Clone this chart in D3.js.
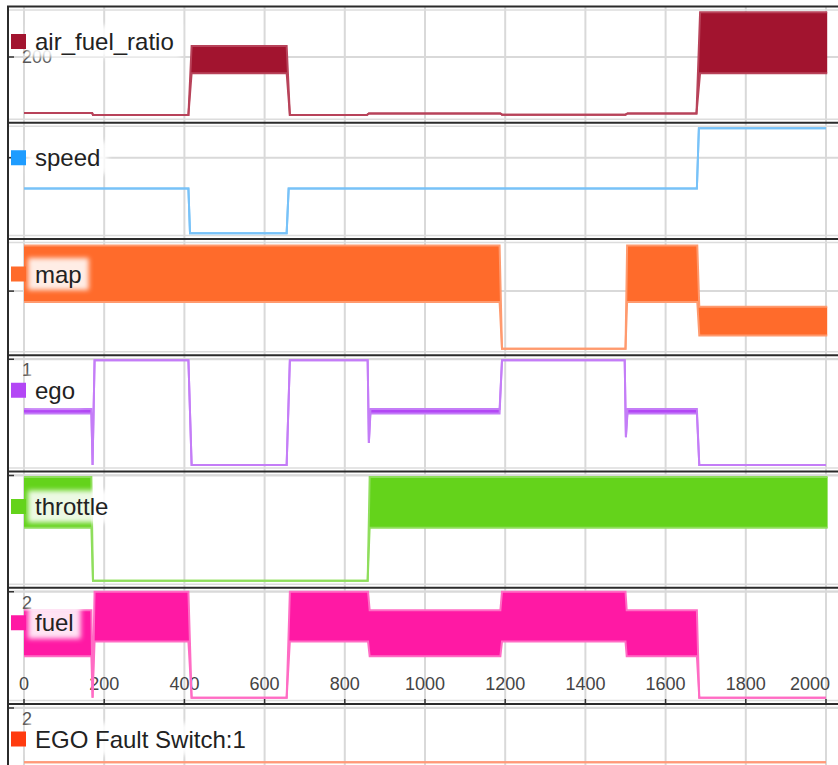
<!DOCTYPE html>
<meta charset="utf-8">
<script src="https://d3js.org/d3.v7.min.js"></script>
<style>
  body { margin: 0; background: #fff; }
  text { font-family: "Liberation Sans", Arial, sans-serif; }
</style>
<div id="my_dataviz"></div>
<script>

// time axis ticks
var xTicks = [0, 200, 400, 600, 800, 1000, 1200, 1400, 1600, 1800, 2000];

// each signal as segments: [start time, end time, low value, high value]
// (low == high for a flat level, low < high where the signal oscillates fast)
var afrSegs = [[0, 170, 16, 16], [172, 410, 10, 10], [418, 655, 147, 236], [663, 855, 10, 10],
               [860, 1188, 15, 15], [1192, 1500, 11, 11], [1505, 1677, 15, 15], [1686, 2003, 147, 347]];
var speedSegs = [[0, 410, 300, 300], [414, 655, 12, 12], [660, 1678, 300, 300], [1683, 2000, 690, 690]];
var mapSegs = [[0, 1186, 0.41, 0.88], [1192, 1500, 0.02, 0.02], [1504, 1679, 0.41, 0.88], [1684, 2003, 0.13, 0.37]];
var egoSegs = [[0, 168, 0.5, 0.54], [171, 171, 0.023, 0.023], [176, 410, 0.99, 0.99], [418, 655, 0.023, 0.023],
               [663, 857, 0.99, 0.99], [860, 860, 0.226, 0.226], [864, 1186, 0.5, 0.54], [1192, 1498, 0.99, 0.99],
               [1501, 1501, 0.28, 0.28], [1505, 1678, 0.5, 0.54], [1684, 2000, 0.023, 0.023]];
var throttleSegs = [[0, 168, 15.5, 29.6], [172, 857, 0.8, 0.8], [862, 2004, 15.5, 29.6]];
var fuelSegs = [[0, 168, 0.81, 1.66], [171, 171, 0.04, 0.04], [176, 410, 1.08, 2.0], [418, 655, 0.04, 0.04],
                [663, 858, 1.08, 2.0], [862, 1188, 0.81, 1.66], [1192, 1500, 1.08, 2.0], [1503, 1678, 0.81, 1.66],
                [1684, 2000, 0.04, 0.04]];
var faultSegs = [[0, 2000, 1, 1]];

// y tick values per panel, and the labels that are not covered by a legend
var afrTicks = [200],     afrLabels = [200];
var speedTicks = [500],   speedLabels = [];
var mapTicks = [0.5],     mapLabels = [];
var egoTicks = [1],       egoLabels = [1];
var throttleTicks = [30], throttleLabels = [];
var fuelTicks = [2],      fuelLabels = [2];
var faultTicks = [2],     faultLabels = [2];

var panels = [
  {name: "air_fuel_ratio", color: "#a2142f", line: "#b8435a", segs: afrSegs, domain: [-2.5, 352.5], ticks: afrTicks, labels: afrLabels},
  {name: "speed", color: "#1e9cff", line: "#78c2f8", segs: speedSegs, domain: [0, 700], ticks: speedTicks, labels: speedLabels},
  {name: "map", color: "#ff6b2b", line: "#ff9a6e", segs: mapSegs, domain: [0, 0.9], ticks: mapTicks, labels: mapLabels},
  {name: "ego", color: "#b347f5", line: "#c47df7", segs: egoSegs, domain: [0, 1], ticks: egoTicks, labels: egoLabels},
  {name: "throttle", color: "#64d31b", line: "#8fde5c", segs: throttleSegs, domain: [0, 30], ticks: throttleTicks, labels: throttleLabels},
  {name: "fuel", color: "#ff19a4", line: "#ff6cc4", segs: fuelSegs, domain: [0, 2], ticks: fuelTicks, labels: fuelLabels},
  {name: "EGO Fault Switch:1", color: "#ff3b0f", line: "#ff9a7a", segs: faultSegs, domain: [0, 2], ticks: faultTicks, labels: faultLabels}
];

var width = 838, height = 765;
var top0 = 6.5, panelH = 116.25, pad = 4;

var svg = d3.select("#my_dataviz")
  .append("svg")
    .attr("width", width)
    .attr("height", height);

var defs = svg.append("defs");
defs.append("filter").attr("id", "soft")
    .attr("x", "-20%").attr("y", "-40%").attr("width", "140%").attr("height", "180%")
  .append("feGaussianBlur").attr("stdDeviation", 2.5);

var x = d3.scaleLinear()
  .domain([0, 2000])
  .range([24, 826]);

// vertical grid lines through all panels
svg.append("g")
  .selectAll("line")
  .data(xTicks)
  .enter()
  .append("line")
    .attr("x1", function (d) { return x(d); })
    .attr("x2", function (d) { return x(d); })
    .attr("y1", top0)
    .attr("y2", height)
    .style("stroke", "#d9d9d9")
    .style("stroke-width", 2);

panels.forEach(function (p, i) {
  var top = top0 + i * panelH,
      bottom = top + panelH;

  var y = d3.scaleLinear()
    .domain(p.domain)
    .range([bottom - pad, top + pad]);

  var g = svg.append("g");

  defs.append("clipPath").attr("id", "clip" + i)
    .append("rect")
      .attr("x", 9).attr("y", top + 1)
      .attr("width", width).attr("height", panelH - 2);

  // faint inner frame lines
  [top + 3.5, bottom - 3.5].forEach(function (yy) {
    g.append("line")
      .attr("x1", 9).attr("x2", width)
      .attr("y1", yy).attr("y2", yy)
      .style("stroke", "#dcdcdc")
      .style("stroke-width", 1.5);
  });

  // horizontal grid lines + tick marks
  g.selectAll(".hgrid")
    .data(p.ticks)
    .enter()
    .append("line")
      .attr("x1", 9).attr("x2", width)
      .attr("y1", function (d) { return y(d); })
      .attr("y2", function (d) { return y(d); })
      .style("stroke", "#d9d9d9")
      .style("stroke-width", 2);

  g.selectAll(".tick")
    .data(p.ticks)
    .enter()
    .append("line")
      .attr("x1", 8).attr("x2", 14)
      .attr("y1", function (d) { return y(d); })
      .attr("y2", function (d) { return y(d); })
      .style("stroke", "#333")
      .style("stroke-width", 1.5);

  g.selectAll(".ylab")
    .data(p.labels)
    .enter()
    .append("text")
      .attr("x", 22)
      .attr("y", function (d) { return Math.max(y(d), top + 15); })
      .attr("dominant-baseline", "central")
      .style("font-size", "18px")
      .style("fill", "#555")
      .text(function (d) { return d; });

  // time axis labels sit inside the fuel panel
  if (p.name === "fuel") {
    g.selectAll(".xlab")
      .data(xTicks)
      .enter()
      .append("text")
        .attr("x", function (d, j) { return j === xTicks.length - 1 ? x(d) + 4 : x(d); })
        .attr("y", bottom - 20)
        .attr("text-anchor", function (d, j) { return j === xTicks.length - 1 ? "end" : "middle"; })
        .attr("dominant-baseline", "central")
        .style("font-size", "18px")
        .style("fill", "#444")
        .text(function (d) { return d; });

    g.selectAll(".xtick")
      .data(xTicks)
      .enter()
      .append("line")
        .attr("x1", function (d) { return x(d); })
        .attr("x2", function (d) { return x(d); })
        .attr("y1", bottom - 5).attr("y2", bottom)
        .style("stroke", "#333")
        .style("stroke-width", 1.5);
  }

  // signal: points from segments
  var pts = [];
  p.segs.forEach(function (s) {
    pts.push({t: s[0], lo: s[2], hi: s[3]});
    pts.push({t: s[1], lo: s[2], hi: s[3]});
  });

  var dg = g.append("g").attr("clip-path", "url(#clip" + i + ")");

  dg.append("path")
    .datum(pts)
    .attr("d", d3.area()
      .x(function (d) { return x(d.t); })
      .y0(function (d) { return y(d.lo); })
      .y1(function (d) { return y(d.hi); }))
    .style("fill", p.color);

  ["lo", "hi"].forEach(function (k) {
    dg.append("path")
      .datum(pts)
      .attr("d", d3.line()
        .x(function (d) { return x(d.t); })
        .y(function (d) { return y(d[k]); }))
      .style("fill", "none")
      .style("stroke", p.line)
      .style("stroke-width", 2);
  });

  // legend
  var cy = top + 35;
  var bg = g.append("rect")
    .attr("x", 28).attr("y", cy - 16)
    .attr("height", 32)
    .style("fill", "#fff")
    .style("opacity", 0.88)
    .attr("filter", "url(#soft)");
  g.append("rect")
    .attr("x", 11).attr("y", cy - 7.5)
    .attr("width", 15).attr("height", 15)
    .style("fill", p.color);
  var lab = g.append("text")
    .attr("x", 35).attr("y", cy)
    .attr("dominant-baseline", "central")
    .style("font-size", "24px")
    .style("fill", "#222")
    .text(p.name);
  bg.attr("width", lab.node().getComputedTextLength() + 14);

  // dark separator on top of the panel
  svg.append("line")
    .attr("x1", 7).attr("x2", width)
    .attr("y1", top).attr("y2", top)
    .style("stroke", "#2b2b2b")
    .style("stroke-width", 2);
});

// left border
svg.append("line")
  .attr("x1", 8).attr("x2", 8)
  .attr("y1", top0).attr("y2", height)
  .style("stroke", "#2b2b2b")
  .style("stroke-width", 2);

</script>
